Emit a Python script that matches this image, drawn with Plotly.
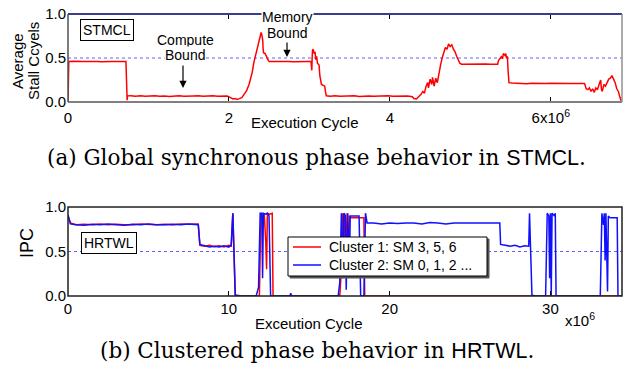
import plotly.graph_objects as go

W, H = 623, 367

# ---------------- data (x in units of 1e6 cycles) ----------------
stmcl_x = [0, 0.01, 0.06, 0.12, 0.18, 0.24, 0.30, 0.36, 0.42, 0.48, 0.54, 0.60, 0.66, 0.72, 0.735, 0.74,
           0.78, 0.84, 0.9, 0.96, 1.02, 1.08, 1.14, 1.2, 1.26, 1.32, 1.38, 1.44, 1.5, 1.56, 1.62, 1.68, 1.74,
           1.8, 1.86, 1.92, 1.98, 2.02, 2.05, 2.08, 2.1, 2.13, 2.16,
           2.19, 2.22, 2.25, 2.27, 2.29, 2.31, 2.33, 2.35, 2.37, 2.385, 2.4, 2.41, 2.42, 2.425, 2.43, 2.45,
           2.47, 2.49, 2.5, 2.56, 2.62, 2.68, 2.74, 2.8, 2.86, 2.92, 2.98, 3.02,
           3.03, 3.035, 3.04, 3.05, 3.06, 3.07, 3.08, 3.09, 3.1, 3.12, 3.13, 3.15, 3.17, 3.19, 3.2, 3.21,
           3.26, 3.32, 3.38, 3.44, 3.5, 3.56, 3.62, 3.68, 3.74, 3.8, 3.86, 3.92, 3.98, 4.04, 4.1, 4.16,
           4.22, 4.28, 4.3, 4.33, 4.36,
           4.39, 4.41, 4.43, 4.45, 4.47, 4.48, 4.5, 4.52, 4.53, 4.55, 4.57, 4.59, 4.61, 4.63, 4.65, 4.67,
           4.69, 4.71, 4.73, 4.75, 4.77, 4.79, 4.81, 4.83, 4.85, 4.87, 4.89,
           4.95, 5.01, 5.07, 5.13, 5.19, 5.25, 5.31, 5.34,
           5.35, 5.37, 5.39, 5.4, 5.41, 5.43, 5.44, 5.45, 5.46, 5.47, 5.48,
           5.52, 5.58, 5.64, 5.7, 5.76, 5.82, 5.88, 5.94, 6.0, 6.06, 6.12, 6.18, 6.24, 6.3, 6.36, 6.42,
           6.44, 6.46, 6.48, 6.5, 6.52, 6.54, 6.56, 6.58, 6.6, 6.62, 6.63, 6.64, 6.66, 6.68, 6.7, 6.72,
           6.74, 6.76, 6.78, 6.8, 6.82, 6.84, 6.86, 6.88]
stmcl_y = [0, 0.46, 0.462, 0.458, 0.461, 0.459, 0.463, 0.46, 0.458, 0.462, 0.46, 0.459, 0.461, 0.46, 0.02, 0.07,
           0.072, 0.066, 0.07, 0.064, 0.068, 0.071, 0.065, 0.069, 0.063, 0.067, 0.07, 0.066, 0.064, 0.068,
           0.07, 0.065, 0.069, 0.072, 0.066, 0.07, 0.068, 0.05, 0.035, 0.04, 0.028, 0.038, 0.05,
           0.09, 0.13, 0.2, 0.26, 0.34, 0.45, 0.52, 0.6, 0.68, 0.72, 0.79, 0.76, 0.7, 0.6, 0.56, 0.55,
           0.5, 0.47, 0.46, 0.462, 0.459, 0.461, 0.46, 0.458, 0.461, 0.46, 0.459, 0.46,
           0.36, 0.52, 0.6, 0.59, 0.55, 0.57, 0.48, 0.52, 0.44, 0.42, 0.3, 0.2, 0.19, 0.18, 0.12, 0.07,
           0.065, 0.07, 0.064, 0.068, 0.066, 0.07, 0.063, 0.067, 0.069, 0.065, 0.068, 0.064, 0.07, 0.066,
           0.068, 0.065, 0.067, 0.06, 0.04, 0.035, 0.06,
           0.09, 0.12, 0.1, 0.18, 0.22, 0.16, 0.26, 0.2, 0.28, 0.18, 0.27, 0.22, 0.35, 0.42, 0.5, 0.56,
           0.62, 0.6, 0.66, 0.63, 0.65, 0.6, 0.57, 0.52, 0.48, 0.44, 0.43,
           0.432, 0.43, 0.431, 0.43, 0.432, 0.43, 0.431, 0.43,
           0.47, 0.5, 0.52, 0.49, 0.55, 0.53, 0.55, 0.5, 0.52, 0.35, 0.22,
           0.215, 0.21, 0.212, 0.208, 0.213, 0.21, 0.211, 0.209, 0.212, 0.21, 0.208, 0.213, 0.21, 0.211,
           0.209, 0.21,
           0.15, 0.14, 0.16, 0.12, 0.15, 0.11, 0.16, 0.14, 0.2, 0.25, 0.14, 0.12, 0.2, 0.18, 0.22, 0.26,
           0.27, 0.3, 0.26, 0.22, 0.15, 0.12, 0.05, 0.0]

c1_x = [0, 0.15, 0.5, 1, 1.5, 2, 2.5, 3, 3.5, 4, 4.5, 5, 5.5, 6, 6.5, 7, 7.5, 8.1, 8.2, 8.5, 8.8, 9.1,
        9.4, 9.7, 10.0, 10.15, 10.25, 10.4, 10.6, 11.9, 12.0, 12.1, 12.2, 12.3, 12.35, 12.4, 12.55, 12.7,
        12.75, 16.9, 17.0, 17.05, 17.15, 17.2, 17.3, 17.35, 17.45, 17.5, 17.6, 18.4, 18.45, 34.45]
c1_y = [0.9, 0.82, 0.8, 0.805, 0.8, 0.81, 0.8, 0.805, 0.8, 0.8, 0.81, 0.805, 0.8, 0.805, 0.8, 0.81, 0.805,
        0.81, 0.57, 0.56, 0.57, 0.555, 0.565, 0.55, 0.57, 0.56, 0.93, 0.01, 0.0, 0.0, 0.93, 0.9, 0.93, 0.6,
        0.3, 0.93, 0.92, 0.93, 0.0, 0.0, 0.3, 0.93, 0.4, 0.93, 0.5, 0.93, 0.3, 0.9, 0.88, 0.88, 0.0, 0.0]

c2_x = [0, 0.15, 0.5, 1, 1.5, 2, 2.5, 3, 3.5, 4, 4.5, 5, 5.5, 6, 6.5, 7, 7.5, 8.1, 8.2, 8.5, 8.8, 9.1,
        9.4, 9.7, 10.0, 10.15, 10.25, 10.4, 10.8, 11.7, 11.85, 11.95, 12.05, 12.1, 12.15, 12.3, 12.4, 12.5,
        12.6, 13.8, 13.85, 13.9, 16.8, 16.9, 17.0, 17.1, 17.15, 17.25, 17.3, 17.4, 17.5, 17.55, 18.1, 18.2,
        18.4, 18.5, 18.6, 19, 19.5, 20, 20.5, 21, 21.5, 22, 22.5, 23, 23.5, 24, 24.5, 25, 25.5, 26, 26.5,
        26.85, 26.9, 27.2, 27.5, 27.8, 28.1, 28.4, 28.65, 28.7, 28.85, 29.1, 29.7, 29.8, 29.9, 29.95, 30.0,
        30.05, 30.1, 30.25, 30.3, 30.35, 33.1, 33.2, 33.3, 33.35, 33.4, 33.45, 33.5, 33.55, 33.6, 33.7,
        34.15, 34.2, 34.45]
c2_y = [0.91, 0.81, 0.8, 0.795, 0.805, 0.8, 0.81, 0.8, 0.795, 0.805, 0.8, 0.81, 0.8, 0.8, 0.805, 0.8, 0.81,
        0.8, 0.58, 0.565, 0.55, 0.56, 0.55, 0.565, 0.55, 0.575, 0.93, 0.01, 0.0, 0.0, 0.1, 0.93, 0.93, 0.2,
        0.93, 0.92, 0.93, 0.9, 0.0, 0.0, 0.03, 0.0, 0.0, 0.15, 0.93, 0.2, 0.93, 0.9, 0.07, 0.93, 0.3, 0.9,
        0.9, 0.0, 0.0, 0.93, 0.82, 0.82, 0.81, 0.82, 0.815, 0.82, 0.82, 0.81, 0.825, 0.82, 0.81, 0.82, 0.82,
        0.815, 0.82, 0.82, 0.815, 0.82, 0.58, 0.57, 0.56, 0.57, 0.55, 0.565, 0.56, 0.93, 0.01, 0.0, 0.0,
        0.93, 0.9, 0.2, 0.93, 0.0, 0.93, 0.9, 0.93, 0.0, 0.0, 0.93, 0.8, 0.93, 0.4, 0.93, 0.6, 0.05, 0.9,
        0.88, 0.88, 0.0, 0.0]

y_ticks = [0, 0.5, 1.0]
y_ticklabels = ["0.0", "0.5", "1.0"]
top_xticks = [0, 2, 4, 6]
top_xticklabels = ["0", "2", "4", "6x10<sup>6</sup>"]
bot_xticks = [0, 10, 20, 30]
bot_xticklabels = ["0", "10", "20", "30"]
legend_names = ["Cluster 1: SM 3, 5, 6", "Cluster 2: SM 0, 1, 2 ..."]
series_colors = ["#ff0000", "#1010ff"]

SANS = "Liberation Sans"
SERIF = "DejaVu Serif"


def px(x):
    return x / W


def py(y):
    return 1 - y / H


fig = go.Figure()
fig.add_trace(go.Scatter(x=stmcl_x, y=stmcl_y, mode="lines", line=dict(color="#ff0000", width=1.5),
                         xaxis="x", yaxis="y", showlegend=False))
fig.add_trace(go.Scatter(x=c1_x, y=c1_y, mode="lines", line=dict(color=series_colors[0], width=1.5),
                         xaxis="x2", yaxis="y2", name=legend_names[0], showlegend=False))
fig.add_trace(go.Scatter(x=c2_x, y=c2_y, mode="lines", line=dict(color=series_colors[1], width=1.5),
                         xaxis="x2", yaxis="y2", name=legend_names[1], showlegend=False))

axis_font = dict(family=SANS, size=15, color="black")
common_x = dict(showgrid=False, zeroline=False, showline=False, ticks="inside", ticklen=5,
                tickcolor="black", tickwidth=1, tickfont=axis_font, automargin=False)
common_y = dict(showgrid=False, zeroline=False, showline=False, ticks="", tickfont=axis_font,
                tickvals=y_ticks, ticktext=y_ticklabels, range=[0, 1.0], automargin=False)

fig.update_layout(
    width=W, height=H, margin=dict(l=0, r=0, t=0, b=0, pad=0, autoexpand=False),
    paper_bgcolor="white", plot_bgcolor="white",
    xaxis=dict(domain=[px(68), px(622)], range=[0, 6.885], tickvals=top_xticks,
               ticktext=top_xticklabels, mirror="ticks", anchor="y", ticklabelstandoff=5, **common_x),
    yaxis=dict(domain=[py(102), py(14)], anchor="x", ticklabelstandoff=1, **common_y),
    xaxis2=dict(domain=[px(68), px(622)], range=[0, 34.45], tickvals=bot_xticks,
                ticktext=bot_xticklabels, anchor="y2", ticklabelstandoff=2, **common_x),
    yaxis2=dict(domain=[py(296), py(207)], anchor="x2", ticklabelstandoff=1, **common_y),
    showlegend=False,
)

shapes = []
# dotted 0.5 reference lines
for xr, yr in [("x", "y"), ("x2", "y2")]:
    shapes.append(dict(type="line", xref=xr + " domain", yref=yr, x0=0, x1=1, y0=0.5, y1=0.5,
                       line=dict(color="#6060ff", width=1, dash="dot"), layer="below"))
# top frame
shapes.append(dict(type="line", xref="x domain", yref="y domain", x0=0, x1=1, y0=1, y1=1,
                   line=dict(color="#3c3c8c", width=2)))
shapes.append(dict(type="line", xref="x domain", yref="y domain", x0=0, x1=1, y0=0, y1=0,
                   line=dict(color="#808080", width=2)))
shapes.append(dict(type="line", xref="x domain", yref="y domain", x0=0, x1=0, y0=0, y1=1,
                   line=dict(color="#505050", width=1.5)))
shapes.append(dict(type="line", xref="x domain", yref="y domain", x0=1, x1=1, y0=0, y1=1,
                   line=dict(color="#909090", width=1.5)))
# bottom frame
shapes.append(dict(type="rect", xref="x2 domain", yref="y2 domain", x0=0, x1=1, y0=0, y1=1,
                   line=dict(color="#202020", width=1.5)))
# legend box (bottom panel)
shapes.append(dict(type="rect", xref="paper", yref="paper", x0=px(290), x1=px(489), y0=py(278),
                   y1=py(239), line=dict(color="#555555", width=1), fillcolor="#555555"))
shapes.append(dict(type="rect", xref="paper", yref="paper", x0=px(288), x1=px(487), y0=py(276),
                   y1=py(237), line=dict(color="black", width=1), fillcolor="white"))
for i, yy in enumerate([247, 265]):
    shapes.append(dict(type="line", xref="paper", yref="paper", x0=px(293), x1=px(321), y0=py(yy),
                       y1=py(yy), line=dict(color=series_colors[i], width=1.5)))
fig.update_layout(shapes=shapes)

ann = []


def label(text, x, y, size=15, **kw):
    d = dict(text=text, x=px(x), y=py(y), xref="paper", yref="paper", showarrow=False,
             xanchor=kw.pop("xanchor", "center"), yanchor="middle",
             font=dict(family=kw.pop("family", SANS), size=size, color="black"))
    d.update(kw)
    ann.append(d)


# y-axis titles
label("Average", 17, 61, textangle=-90)
label("Stall Ccyels", 33, 61, textangle=-90)
label("IPC", 27, 243, size=18, textangle=-90)
# x-axis titles
label("Execution Cycle", 305, 123)
label("Exceution Cycle", 309, 323)
label("x10<sup>6</sup>", 580, 319)
# boxed labels
label("STMCL", 107, 30, size=14, bordercolor="black", borderwidth=1, borderpad=2, bgcolor="white")
label("HRTWL", 109, 243, size=14, bordercolor="black", borderwidth=1, borderpad=2, bgcolor="white")
# phase annotations
for t, x, y in [("Compute", 185, 40), ("Bound", 185, 55), ("Memory", 287, 17), ("Bound", 287, 33)]:
    label(t, x, y, size=14, bgcolor="white", borderpad=0)
for x, y0, y1 in [(183, 64, 88), (287, 41, 57)]:
    ann.append(dict(text="", x=px(x), y=py(y1), ax=0, ay=-(y1 - y0), xref="paper", yref="paper",
                    axref="pixel", ayref="pixel", showarrow=True, arrowhead=2, arrowsize=1.2,
                    arrowwidth=1.2, arrowcolor="black"))
# legend texts
for name, yy in zip(legend_names, [247, 265]):
    label(name, 327, yy, size=14, xanchor="left")
# captions
sty = "font-family:'Liberation Sans',sans-serif"
label(f'(a) Global synchronous phase behavior in <span style="{sty}">STMCL</span>.', 316, 158,
      size=21.5, family=SERIF)
label(f'(b) Clustered phase behavior in <span style="{sty}">HRTWL</span>.', 317, 350,
      size=21.5, family=SERIF)
fig.update_layout(annotations=ann)

fig.write_html("out.html")
